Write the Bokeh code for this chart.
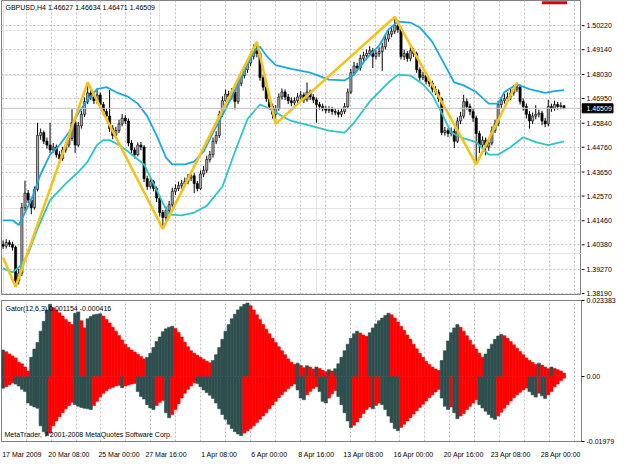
from bokeh.plotting import figure
from bokeh.layouts import column, row
from bokeh.models import Range1d, FixedTicker, Label, Span, Grid
from bokeh.core.properties import value
from bokeh.embed import file_html
from bokeh.resources import INLINE

# ---------------- data ----------------
OPEN = [1.4040, 1.4032, 1.4049, 1.4040, 1.4027, 1.3876, 1.3911, 1.4205, 1.4270, 1.4239,
        1.4205, 1.4287, 1.4529, 1.4542, 1.4503, 1.4486, 1.4464, 1.4477, 1.4443, 1.4425,
        1.4464, 1.4486, 1.4516, 1.4586, 1.4486, 1.4573, 1.4624, 1.4681, 1.4720, 1.4702,
        1.4685, 1.4711, 1.4668, 1.4637, 1.4616, 1.4560, 1.4529, 1.4551, 1.4581, 1.4607,
        1.4594, 1.4495, 1.4464, 1.4443, 1.4486, 1.4477, 1.4335, 1.4300, 1.4322, 1.4291,
        1.4248, 1.4183, 1.4161, 1.4192, 1.4218, 1.4278, 1.4291, 1.4304, 1.4313, 1.4322,
        1.4339, 1.4348, 1.4313, 1.4291, 1.4356, 1.4373, 1.4421, 1.4443, 1.4503, 1.4529,
        1.4624, 1.4685, 1.4715, 1.4702, 1.4724, 1.4681, 1.4763, 1.4798, 1.4824, 1.4854,
        1.4884, 1.4919, 1.4897, 1.4789, 1.4746, 1.4694, 1.4659, 1.4624, 1.4650, 1.4702,
        1.4724, 1.4702, 1.4685, 1.4676, 1.4685, 1.4702, 1.4711, 1.4689, 1.4724, 1.4702,
        1.4689, 1.4668, 1.4659, 1.4650, 1.4642, 1.4646, 1.4637, 1.4633, 1.4624, 1.4637,
        1.4659, 1.4724, 1.4811, 1.4841, 1.4832, 1.4875, 1.4888, 1.4897, 1.4910, 1.4884,
        1.4897, 1.4906, 1.4927, 1.4962, 1.4984, 1.4997, 1.5023, 1.5005, 1.4884, 1.4897,
        1.4875, 1.4910, 1.4897, 1.4824, 1.4789, 1.4798, 1.4772, 1.4763, 1.4737, 1.4724,
        1.4694, 1.4542, 1.4551, 1.4538, 1.4547, 1.4503, 1.4594, 1.4616, 1.4681, 1.4659,
        1.4637, 1.4607, 1.4538, 1.4486, 1.4508, 1.4477, 1.4495, 1.4551, 1.4581, 1.4668,
        1.4685, 1.4694, 1.4702, 1.4720, 1.4737, 1.4746, 1.4681, 1.4659, 1.4624, 1.4594,
        1.4616, 1.4624, 1.4629, 1.4594, 1.4581, 1.4659, 1.4650, 1.4668, 1.4659, 1.46627]
HIGH = [1.4058, 1.4063, 1.4060, 1.4052, 1.4035, 1.3930, 1.4226, 1.4326, 1.4284, 1.4250,
        1.4300, 1.4586, 1.4560, 1.4551, 1.4520, 1.4586, 1.4495, 1.4488, 1.4458, 1.4478,
        1.4500, 1.4530, 1.4646, 1.4598, 1.4590, 1.4640, 1.4700, 1.4767, 1.4745, 1.4728,
        1.4740, 1.4722, 1.4680, 1.4650, 1.4733, 1.4575, 1.4568, 1.4600, 1.4625, 1.4620,
        1.4605, 1.4508, 1.4475, 1.4498, 1.4500, 1.4486, 1.4348, 1.4338, 1.4330, 1.4300,
        1.4260, 1.4195, 1.4210, 1.4235, 1.4295, 1.4310, 1.4322, 1.4330, 1.4340, 1.4356,
        1.4368, 1.4360, 1.4325, 1.4372, 1.4392, 1.4438, 1.4460, 1.4520, 1.4548, 1.4640,
        1.4705, 1.4735, 1.4730, 1.4742, 1.4735, 1.4780, 1.4815, 1.4842, 1.4872, 1.4905,
        1.4938, 1.4949, 1.4905, 1.4800, 1.4760, 1.4710, 1.4672, 1.4665, 1.4718, 1.4740,
        1.4736, 1.4715, 1.4700, 1.4700, 1.4720, 1.4728, 1.4722, 1.4767, 1.4735, 1.4715,
        1.4700, 1.4680, 1.4672, 1.4662, 1.4660, 1.4658, 1.4650, 1.4645, 1.4652, 1.4675,
        1.4740, 1.4828, 1.4860, 1.4855, 1.4892, 1.4905, 1.4915, 1.4930, 1.4922, 1.4912,
        1.4925, 1.4945, 1.4980, 1.5002, 1.5020, 1.5061, 1.5045, 1.5015, 1.4915, 1.4908,
        1.4928, 1.4922, 1.4905, 1.4835, 1.4815, 1.4808, 1.4785, 1.4775, 1.4750, 1.4735,
        1.4700, 1.4568, 1.4562, 1.4565, 1.4560, 1.4610, 1.4635, 1.4711, 1.4695, 1.4672,
        1.4650, 1.4618, 1.4550, 1.4525, 1.4520, 1.4515, 1.4570, 1.4600, 1.4685, 1.4702,
        1.4715, 1.4722, 1.4738, 1.4755, 1.4767, 1.4758, 1.4695, 1.4672, 1.4638, 1.4632,
        1.4665, 1.4645, 1.4640, 1.4608, 1.4690, 1.4672, 1.4685, 1.4680, 1.4678, 1.46634]
LOW = [1.4020, 1.4022, 1.4028, 1.4012, 1.3850, 1.3860, 1.3898, 1.4190, 1.4225, 1.4175,
       1.4196, 1.4278, 1.4510, 1.4490, 1.4470, 1.4450, 1.4452, 1.4430, 1.4400, 1.4415,
       1.4452, 1.4475, 1.4505, 1.4451, 1.4478, 1.4560, 1.4612, 1.4670, 1.4688, 1.4670,
       1.4672, 1.4652, 1.4620, 1.4600, 1.4545, 1.4512, 1.4518, 1.4540, 1.4570, 1.4580,
       1.4480, 1.4450, 1.4425, 1.4435, 1.4462, 1.4320, 1.4285, 1.4290, 1.4278, 1.4230,
       1.4165, 1.4110, 1.4140, 1.4180, 1.4205, 1.4262, 1.4280, 1.4290, 1.4298, 1.4310,
       1.4325, 1.4270, 1.4278, 1.4285, 1.4342, 1.4362, 1.4408, 1.4430, 1.4490, 1.4518,
       1.4612, 1.4672, 1.4688, 1.4690, 1.4646, 1.4670, 1.4750, 1.4785, 1.4810, 1.4840,
       1.4870, 1.4880, 1.4775, 1.4730, 1.4680, 1.4645, 1.4605, 1.4581, 1.4640, 1.4690,
       1.4688, 1.4670, 1.4660, 1.4662, 1.4672, 1.4690, 1.4675, 1.4681, 1.4688, 1.4675,
       1.4586, 1.4645, 1.4638, 1.4628, 1.4630, 1.4622, 1.4620, 1.4610, 1.4612, 1.4625,
       1.4650, 1.4715, 1.4800, 1.4818, 1.4820, 1.4862, 1.4875, 1.4885, 1.4832, 1.4870,
       1.4882, 1.4819, 1.4915, 1.4950, 1.4970, 1.4985, 1.4990, 1.4870, 1.4868, 1.4860,
       1.4862, 1.4882, 1.4810, 1.4775, 1.4778, 1.4758, 1.4748, 1.4722, 1.4710, 1.4680,
       1.4530, 1.4528, 1.4522, 1.4525, 1.4473, 1.4495, 1.4580, 1.4605, 1.4645, 1.4620,
       1.4590, 1.4399, 1.4450, 1.4470, 1.4440, 1.4460, 1.4485, 1.4540, 1.4570, 1.4652,
       1.4672, 1.4680, 1.4688, 1.4708, 1.4725, 1.4668, 1.4640, 1.4605, 1.4560, 1.4580,
       1.4602, 1.4610, 1.4575, 1.4566, 1.4570, 1.4635, 1.4640, 1.4645, 1.4647, 1.46471]
CLOSE = [1.4032, 1.4049, 1.4040, 1.4027, 1.3876, 1.3911, 1.4205, 1.4270, 1.4239, 1.4205,
         1.4287, 1.4529, 1.4542, 1.4503, 1.4486, 1.4464, 1.4477, 1.4443, 1.4425, 1.4464,
         1.4486, 1.4516, 1.4586, 1.4486, 1.4573, 1.4624, 1.4681, 1.4720, 1.4702, 1.4685,
         1.4711, 1.4668, 1.4637, 1.4616, 1.4560, 1.4529, 1.4551, 1.4581, 1.4607, 1.4594,
         1.4495, 1.4464, 1.4443, 1.4486, 1.4477, 1.4335, 1.4300, 1.4322, 1.4291, 1.4248,
         1.4183, 1.4161, 1.4192, 1.4218, 1.4278, 1.4291, 1.4304, 1.4313, 1.4322, 1.4339,
         1.4348, 1.4313, 1.4291, 1.4356, 1.4373, 1.4421, 1.4443, 1.4503, 1.4529, 1.4624,
         1.4685, 1.4715, 1.4702, 1.4724, 1.4681, 1.4763, 1.4798, 1.4824, 1.4854, 1.4884,
         1.4919, 1.4897, 1.4789, 1.4746, 1.4694, 1.4659, 1.4624, 1.4650, 1.4702, 1.4724,
         1.4702, 1.4685, 1.4676, 1.4685, 1.4702, 1.4711, 1.4689, 1.4724, 1.4702, 1.4689,
         1.4668, 1.4659, 1.4650, 1.4642, 1.4646, 1.4637, 1.4633, 1.4624, 1.4637, 1.4659,
         1.4724, 1.4811, 1.4841, 1.4832, 1.4875, 1.4888, 1.4897, 1.4910, 1.4884, 1.4897,
         1.4906, 1.4927, 1.4962, 1.4984, 1.4997, 1.5023, 1.5005, 1.4884, 1.4897, 1.4875,
         1.4910, 1.4897, 1.4824, 1.4789, 1.4798, 1.4772, 1.4763, 1.4737, 1.4724, 1.4694,
         1.4542, 1.4551, 1.4538, 1.4547, 1.4503, 1.4594, 1.4616, 1.4681, 1.4659, 1.4637,
         1.4607, 1.4538, 1.4486, 1.4508, 1.4477, 1.4495, 1.4551, 1.4581, 1.4668, 1.4685,
         1.4694, 1.4702, 1.4720, 1.4737, 1.4746, 1.4681, 1.4659, 1.4624, 1.4594, 1.4616,
         1.4624, 1.4629, 1.4594, 1.4581, 1.4659, 1.4650, 1.4668, 1.4659, 1.4663, 1.46509]

UB_X = [0, 3, 5, 9, 12, 15, 18, 21, 24, 27, 30, 33, 36, 40, 43, 46, 49, 52, 54, 58,
        61, 64, 67, 71, 74, 77, 80, 82, 84, 87, 92, 98, 104, 109, 112, 116, 120, 123, 126, 130,
        133, 137, 141, 144, 147, 151, 155, 158, 160, 164, 168, 173, 176, 179]
UB_Y = [1.4148, 1.4148, 1.4127, 1.4239, 1.4356, 1.4443, 1.4486, 1.4542, 1.4629, 1.4689,
        1.4737, 1.4746, 1.4724, 1.4702, 1.4672, 1.4616, 1.4529, 1.4430, 1.4399, 1.4399,
        1.4412, 1.4456, 1.4542, 1.4646, 1.4733, 1.4819, 1.4906, 1.4927, 1.4888, 1.4845,
        1.4828, 1.4811, 1.4780, 1.4776, 1.4802, 1.4875, 1.4932, 1.5005, 1.5040, 1.5036,
        1.5014, 1.4949, 1.4845, 1.4767, 1.4754, 1.4724, 1.4672, 1.4672, 1.4724, 1.4759,
        1.4737, 1.4720, 1.4728, 1.4733]
LB_X = [0, 3, 5, 8, 11, 15, 20, 24, 27, 30, 32, 34, 37, 40, 45, 48, 51, 53, 57, 61,
        65, 70, 74, 78, 82, 85, 89, 92, 98, 104, 109, 112, 117, 123, 126, 130, 134, 137, 140, 143,
        147, 151, 155, 158, 162, 166, 170, 174, 179]
LB_Y = [1.3932, 1.3915, 1.3936, 1.3997, 1.4110, 1.4239, 1.4313, 1.4365, 1.4412, 1.4486,
        1.4508, 1.4508, 1.4486, 1.4456, 1.4399, 1.4313, 1.4226, 1.4174, 1.4170, 1.4183,
        1.4213, 1.4300, 1.4456, 1.4603, 1.4668, 1.4650, 1.4616, 1.4594, 1.4573, 1.4551,
        1.4542, 1.4586, 1.4681, 1.4767, 1.4802, 1.4798, 1.4759, 1.4711, 1.4629, 1.4542,
        1.4516, 1.4499, 1.4443, 1.4443, 1.4477, 1.4521, 1.4499, 1.4486, 1.4503]
ZZ_X = [0, 4, 27, 51, 81, 87, 125, 151, 164]
ZZ_Y = [1.3980, 1.3850, 1.4767, 1.4110, 1.4949, 1.4581, 1.5061, 1.4399, 1.4767]
MARK_X = [172, 180]
MARK_Y = [1.5125, 1.5125]

GATOR_UP = [0.0082, 0.0077, 0.0070, 0.0064, 0.0058, 0.0045, 0.0040, 0.0030, 0.0018, 0.0060,
            0.0085, 0.0105, 0.0140, 0.0170, 0.0205, 0.0222, 0.0212, 0.0205, 0.0196, 0.0186,
            0.0176, 0.0168, 0.0160, 0.0195, 0.0199, 0.0172, 0.0150, 0.0178, 0.0185, 0.0190,
            0.0192, 0.0193, 0.0186, 0.0176, 0.0165, 0.0152, 0.0140, 0.0127, 0.0113, 0.0100,
            0.0090, 0.0082, 0.0076, 0.0069, 0.0062, 0.0055, 0.0060, 0.0072, 0.0090, 0.0108,
            0.0122, 0.0138, 0.0147, 0.0152, 0.0155, 0.0148, 0.0136, 0.0122, 0.0106, 0.0092,
            0.0080, 0.0072, 0.0066, 0.0060, 0.0054, 0.0048, 0.0043, 0.0050, 0.0068, 0.0090,
            0.0115, 0.0140, 0.0160, 0.0178, 0.0192, 0.0205, 0.0215, 0.0222, 0.0226, 0.0218,
            0.0205, 0.0190, 0.0176, 0.0160, 0.0146, 0.0132, 0.0118, 0.0105, 0.0092, 0.0080,
            0.0068, 0.0055, 0.0045, 0.0038, 0.0042, 0.0035, 0.0028, 0.0034, 0.0030, 0.0024,
            0.0030, 0.0026, 0.0020, 0.0016, 0.0022, 0.0018, 0.0025, 0.0040, 0.0060, 0.0080,
            0.0100, 0.0118, 0.0132, 0.0140, 0.0134, 0.0128, 0.0124, 0.0135, 0.0150, 0.0162,
            0.0172, 0.0180, 0.0188, 0.0195, 0.0190, 0.0180, 0.0168, 0.0155, 0.0142, 0.0128,
            0.0115, 0.0100, 0.0086, 0.0072, 0.0060, 0.0048, 0.0038, 0.0030, 0.0024, 0.0020,
            0.0050, 0.0080, 0.0110, 0.0135, 0.0150, 0.0160, 0.0152, 0.0140, 0.0126, 0.0112,
            0.0098, 0.0085, 0.0072, 0.0060, 0.0070, 0.0085, 0.0100, 0.0115, 0.0125, 0.0130,
            0.0126, 0.0118, 0.0108, 0.0098, 0.0088, 0.0078, 0.0068, 0.0058, 0.0050, 0.0044,
            0.0038, 0.0042, 0.0036, 0.0030, 0.0025, 0.0030, 0.0026, 0.0022, 0.0018, 0.001154]
GATOR_DN = [-0.0035, -0.0030, -0.0024, -0.0018, -0.0022, -0.0028, -0.0038, -0.0045, -0.0080, -0.0088,
            -0.0092, -0.0096, -0.0150, -0.0168, -0.0180, -0.0172, -0.0150, -0.0135, -0.0122, -0.0110,
            -0.0098, -0.0088, -0.0078, -0.0085, -0.0090, -0.0094, -0.0096, -0.0098, -0.0100, -0.0088,
            -0.0075, -0.0062, -0.0050, -0.0042, -0.0036, -0.0032, -0.0028, -0.0026, -0.0033, -0.0028,
            -0.0025, -0.0022, -0.0020, -0.0045, -0.0060, -0.0068, -0.0085, -0.0095, -0.0100, -0.0088,
            -0.0078, -0.0072, -0.0110, -0.0125, -0.0115, -0.0100, -0.0082, -0.0065, -0.0050, -0.0038,
            -0.0028, -0.0018, -0.0020, -0.0030, -0.0040, -0.0048, -0.0056, -0.0066, -0.0080, -0.0098,
            -0.0115, -0.0130, -0.0145, -0.0158, -0.0168, -0.0175, -0.0180, -0.0172, -0.0165, -0.0158,
            -0.0150, -0.0140, -0.0130, -0.0120, -0.0110, -0.0098, -0.0086, -0.0075, -0.0064, -0.0054,
            -0.0045, -0.0036, -0.0028, -0.0022, -0.0040, -0.0065, -0.0070, -0.0055, -0.0045, -0.0036,
            -0.0030, -0.0045, -0.0075, -0.0080, -0.0065, -0.0052, -0.0042, -0.0060, -0.0085, -0.0110,
            -0.0135, -0.0155, -0.0148, -0.0138, -0.0125, -0.0112, -0.0100, -0.0092, -0.0098, -0.0088,
            -0.0080, -0.0085, -0.0100, -0.0120, -0.0140, -0.0158, -0.0165, -0.0155, -0.0145, -0.0135,
            -0.0125, -0.0114, -0.0104, -0.0094, -0.0084, -0.0074, -0.0064, -0.0055, -0.0046, -0.0038,
            -0.0065, -0.0090, -0.0100, -0.0092, -0.0110, -0.0128, -0.0120, -0.0112, -0.0100, -0.0090,
            -0.0080, -0.0070, -0.0085, -0.0095, -0.0105, -0.0115, -0.0125, -0.0130, -0.0120, -0.0108,
            -0.0096, -0.0085, -0.0074, -0.0064, -0.0055, -0.0047, -0.0040, -0.0034, -0.0045, -0.0055,
            -0.0062, -0.0050, -0.0058, -0.0066, -0.0055, -0.0045, -0.0030, -0.0022, -0.0012, -0.000416]

PRICE_TICKS = [1.3819, 1.3927, 1.4038, 1.4146, 1.4257, 1.4365, 1.4476,
               1.4584, 1.4695, 1.4803, 1.4914, 1.5022]
LAST_PRICE = 1.46509
GATOR_TICKS = [-0.01979, 0.0, 0.023383]
GATOR_TICK_TEXT = ["-0.01979", "0.00", "0.023383"]
TIME_BARS = [0, 15, 31, 46, 63, 79, 94, 109, 125, 141, 156, 172]
TIME_LABELS = ["17 Mar 2009", "20 Mar 08:00", "25 Mar 00:00", "27 Mar 16:00", "1 Apr 08:00",
               "6 Apr 00:00", "8 Apr 16:00", "13 Apr 08:00", "16 Apr 00:00", "20 Apr 16:00",
               "23 Apr 08:00", "28 Apr 00:00"]
TITLE = "GBPUSD,H4  1.46627 1.46634 1.46471 1.46509"
GATOR_TITLE = "Gator(12,6,3) 0.001154 -0.000416"
COPYRIGHT = "MetaTrader, ? 2001-2008 MetaQuotes Software Corp."

# ---------------- styling ----------------
FONT = "Liberation Sans"
FS = "7px"
FRAME_W = 580
MAIN_H = 294
MAIN_PAD = 3
Y_LO, Y_HI = 1.3815, 1.5135
X_RANGE = Range1d(-0.5, 184.6)
GRID_X = [7.4 + 7.95 * k for k in range(23)]
GRID_COLOR = "#c0c0c0"
FRAME_COLOR = "#808080"
DARK = "#2f4f4f"
RED = "#ff0000"
AXIS_W = 33

idx = list(range(len(CLOSE)))
candle_fill = ["#a8a8a8" if c >= o else "black" for o, c in zip(OPEN, CLOSE)]

# ---------------- price panel ----------------
p = figure(frame_width=FRAME_W, frame_height=MAIN_H, x_range=X_RANGE,
           y_range=Range1d(Y_LO, Y_HI), output_backend="svg", toolbar_location=None,
           x_axis_location=None, y_axis_location=None,
           min_border_left=1, min_border_right=0, min_border_top=0, min_border_bottom=MAIN_PAD,
           background_fill_color="white", border_fill_color="white",
           outline_line_color=FRAME_COLOR)
p.add_layout(Grid(dimension=0, ticker=FixedTicker(ticks=GRID_X), grid_line_color=GRID_COLOR,
                  grid_line_dash="2 2"))
p.add_layout(Grid(dimension=1, ticker=FixedTicker(ticks=PRICE_TICKS), grid_line_color=GRID_COLOR,
                  grid_line_dash="2 2"))
p.add_layout(Span(location=LAST_PRICE, dimension="width", line_color="#c0c0c0", line_width=1))

p.segment(x0=idx, y0=LOW, x1=idx, y1=HIGH, line_color="black", line_width=1)
p.vbar(x=idx, width=0.7, top=OPEN, bottom=CLOSE, fill_color=candle_fill,
       line_color="black", line_width=0.6)
p.line(UB_X, UB_Y, line_color="#1ca8e2", line_width=1.8)
p.line(LB_X, LB_Y, line_color="#2cc6c6", line_width=1.8)
p.line(ZZ_X, ZZ_Y, line_color="#f4c41c", line_width=2.6)
p.line(MARK_X, MARK_Y, line_color="#e00000", line_width=3)

p.add_layout(Label(x=X_RANGE.start, y=Y_HI, x_offset=4, y_offset=-3, text=TITLE,
                   text_baseline="top", text_font=FONT, text_font_size=FS, text_color="black"))

# price scale column (same vertical scale as the price panel, extended over its bottom pad)
y_pad = MAIN_PAD * (Y_HI - Y_LO) / MAIN_H
pax = figure(frame_width=AXIS_W, frame_height=MAIN_H + MAIN_PAD, x_range=Range1d(0, AXIS_W),
             y_range=Range1d(Y_LO - y_pad, Y_HI), output_backend="svg", toolbar_location=None,
             x_axis_location=None, y_axis_location=None,
             min_border_left=0, min_border_right=0, min_border_top=0, min_border_bottom=0,
             background_fill_color="white", border_fill_color="white", outline_line_color=None)
pax.grid.visible = False
price_text = ["%.5f" % t for t in PRICE_TICKS]
pax.segment(x0=[0] * len(PRICE_TICKS), y0=PRICE_TICKS, x1=[3] * len(PRICE_TICKS), y1=PRICE_TICKS,
            line_color="black", line_width=1)
pax.text(x=[5] * len(PRICE_TICKS), y=PRICE_TICKS, text=price_text, text_baseline="middle",
         text_align="left", text_font=value(FONT), text_font_size=value(FS), text_color="black")
pax.rect(x=[16], y=[LAST_PRICE], width=31, height=9, width_units="screen", height_units="screen",
         fill_color="black", line_color="black")
pax.text(x=[5], y=[LAST_PRICE], text=["%.5f" % LAST_PRICE], text_baseline="middle",
         text_align="left", text_font=value(FONT), text_font_size=value(FS), text_color="white")

# ---------------- gator panel ----------------
g = figure(frame_width=FRAME_W, frame_height=141, x_range=X_RANGE,
           y_range=Range1d(GATOR_TICKS[0], GATOR_TICKS[-1]), output_backend="svg",
           toolbar_location=None, x_axis_location="below", y_axis_location="right",
           min_border_left=1, min_border_right=0, min_border_top=3, min_border_bottom=0,
           background_fill_color="white", border_fill_color="white",
           outline_line_color=FRAME_COLOR)
g.xgrid.visible = False
g.ygrid.visible = False
g.add_layout(Grid(dimension=0, ticker=FixedTicker(ticks=GRID_X), grid_line_color=GRID_COLOR,
                  grid_line_dash="2 2"))

up_col = [DARK if i == 0 or abs(GATOR_UP[i]) >= abs(GATOR_UP[i - 1]) else RED for i in idx]
dn_col = [DARK if i == 0 or abs(GATOR_DN[i]) >= abs(GATOR_DN[i - 1]) else RED for i in idx]
g.vbar(x=idx, width=1.0, top=GATOR_UP, bottom=0, fill_color=up_col, line_color=up_col,
       line_width=0.6)
g.vbar(x=idx, width=1.0, top=0, bottom=GATOR_DN, fill_color=dn_col, line_color=dn_col,
       line_width=0.6)

ax = g.yaxis[0]
ax.ticker = FixedTicker(ticks=GATOR_TICKS)
ax.major_label_overrides = dict(zip(GATOR_TICKS, GATOR_TICK_TEXT))
ax.axis_line_color = FRAME_COLOR
ax.major_tick_line_color = "black"
ax.major_tick_out = 3
ax.major_tick_in = 0
ax.minor_tick_line_color = None
ax.major_label_standoff = 2
ax.major_label_text_font = FONT
ax.major_label_text_font_size = FS
ax.major_label_text_color = "black"

time_ticks = [b + 6 for b in TIME_BARS]
g.xaxis.ticker = FixedTicker(ticks=time_ticks)
g.xaxis.major_label_overrides = dict(zip(time_ticks, TIME_LABELS))
g.xaxis.axis_line_color = FRAME_COLOR
g.xaxis.major_tick_line_color = None
g.xaxis.minor_tick_line_color = None
g.xaxis.major_label_standoff = 3
g.xaxis.major_label_text_font = FONT
g.xaxis.major_label_text_font_size = FS
g.xaxis.major_label_text_color = "black"

g.add_layout(Label(x=X_RANGE.start, y=GATOR_TICKS[-1], x_offset=4, y_offset=-4, text=GATOR_TITLE,
                   text_baseline="top", text_font=FONT, text_font_size=FS, text_color="black"))
g.add_layout(Label(x=X_RANGE.start, y=GATOR_TICKS[0], x_offset=3, y_offset=4, text=COPYRIGHT,
                   text_baseline="bottom", text_font=FONT, text_font_size=FS, text_color="black"))

layout = column(row(p, pax, spacing=0), g, spacing=0)
open("out.html", "w").write(file_html(layout, INLINE))
